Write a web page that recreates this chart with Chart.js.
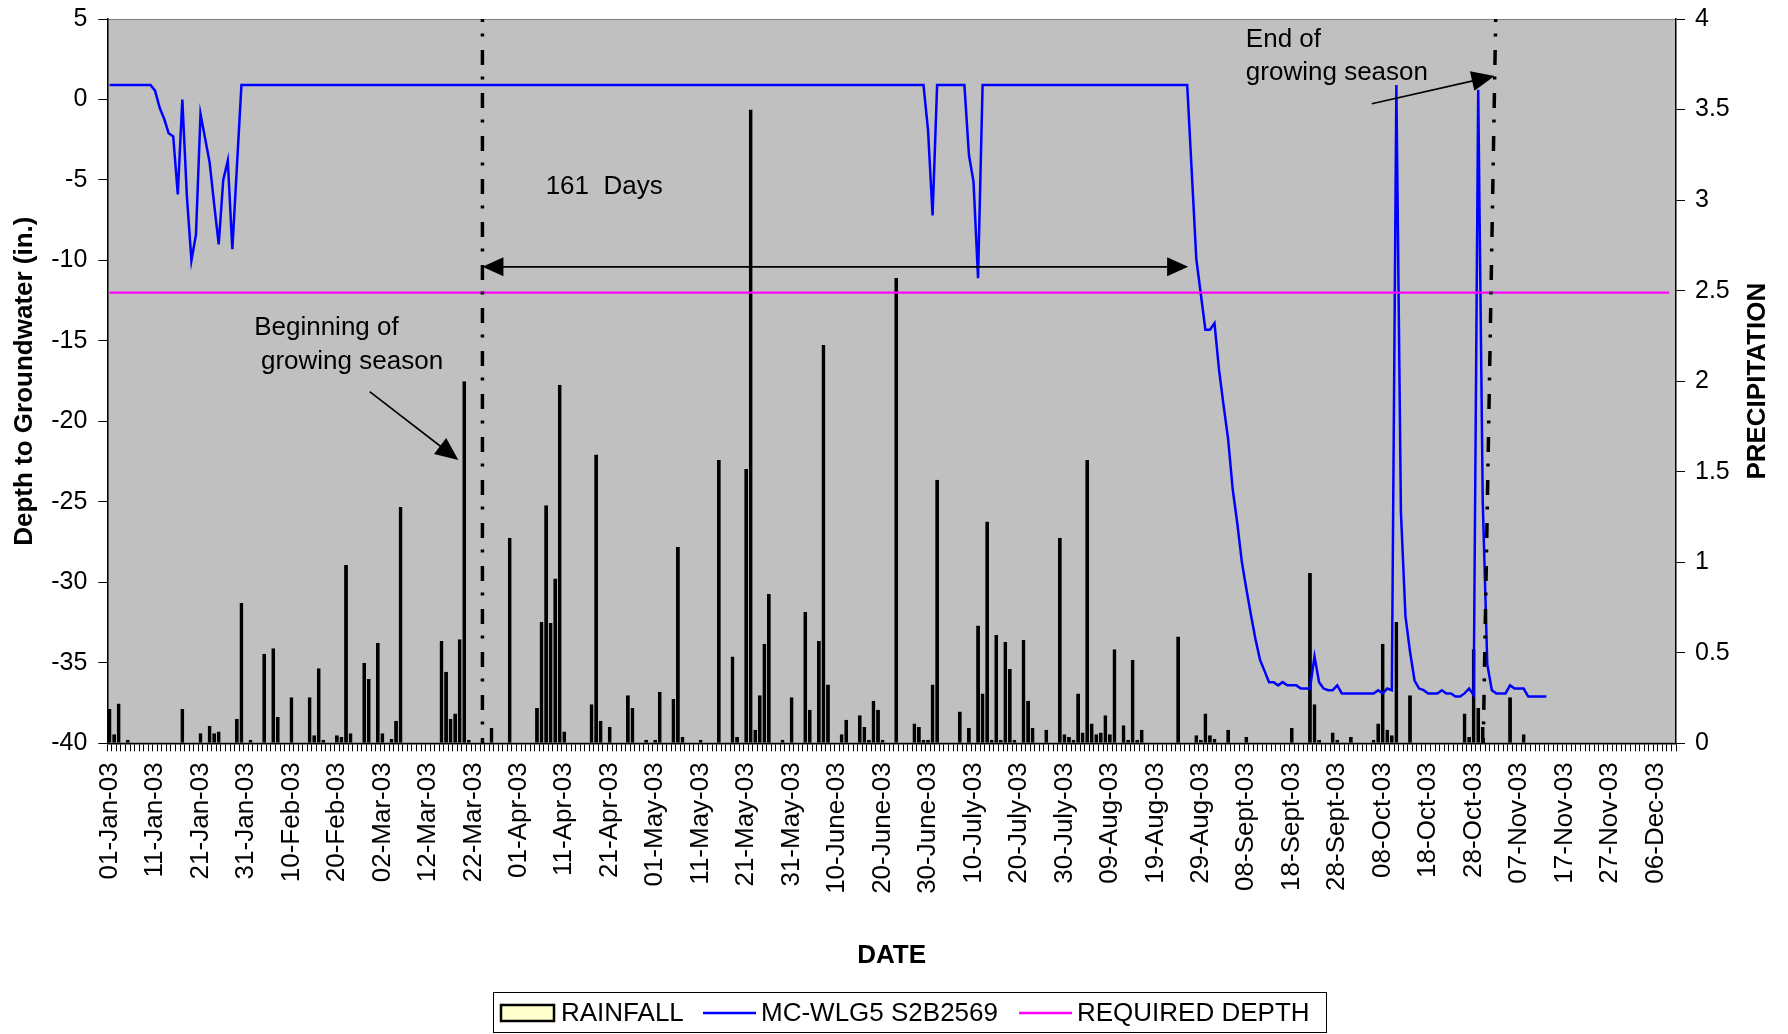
<!DOCTYPE html>
<html>
<head>
<meta charset="utf-8">
<title>MC-WLG5 S2B2569 – Depth to Groundwater</title>
<script src="https://cdn.jsdelivr.net/npm/chart.js@4.4.1/dist/chart.umd.min.js"></script>
<style>
  html, body { margin: 0; padding: 0; background: #fff; }
  #grafico { display: block; }
</style>
</head>
<body>
<canvas id="grafico" width="1788" height="1034"></canvas>
<script>
/* ============================================================
   Poço MC-WLG5 S2B2569 – profundidade do lençol freático vs chuva
   Eixo X: um dia por categoria (01-Jan-03 em diante).
   Eixo esquerdo: profundidade (in.); eixo direito: precipitação (in.).
   ============================================================ */

const TOTAL_DIAS = 345;
const dias = Array.from({ length: TOTAL_DIAS }, (_, i) => i);

// Rótulos do eixo X (um a cada 10 categorias)
const rotulosEixoX = [
  '01-Jan-03', '11-Jan-03', '21-Jan-03', '31-Jan-03', '10-Feb-03', '20-Feb-03', '02-Mar-03',
  '12-Mar-03', '22-Mar-03', '01-Apr-03', '11-Apr-03', '21-Apr-03', '01-May-03', '11-May-03',
  '21-May-03', '31-May-03', '10-June-03', '20-June-03', '30-June-03', '10-July-03', '20-July-03',
  '30-July-03', '09-Aug-03', '19-Aug-03', '29-Aug-03', '08-Sept-03', '18-Sept-03', '28-Sept-03',
  '08-Oct-03', '18-Oct-03', '28-Oct-03', '07-Nov-03', '17-Nov-03', '27-Nov-03', '06-Dec-03'
];

// Chuva: dia (índice da categoria) e altura em polegadas
const diasComChuva = [
  0, 1, 2, 4, 16, 20, 22, 23, 24, 28, 29, 31, 34, 36, 37, 40, 44, 45, 46, 47,
  50, 51, 52, 53, 56, 57, 59, 60, 62, 63, 64, 73, 74, 75, 76, 77, 78, 79, 84, 88,
  94, 95, 96, 97, 98, 99, 100, 106, 107, 108, 110, 114, 115, 118, 120, 121, 124, 125, 126, 130,
  134, 137, 138, 140, 141, 142, 143, 144, 145, 148, 150, 153, 154, 156, 157, 158, 161, 162, 165, 166,
  167, 168, 169, 170, 173, 177, 178, 179, 180, 181, 182, 187, 189, 191, 192, 193, 194, 195, 196, 197,
  198, 199, 201, 202, 203, 206, 209, 210, 211, 212, 213, 214, 215, 216, 217, 218, 219, 220, 221, 223,
  224, 225, 226, 227, 235, 239, 240, 241, 242, 243, 246, 250, 260, 264, 265, 266, 269, 270, 273, 278,
  279, 280, 281, 282, 283, 286, 298, 299, 300, 301, 302, 308, 311
];
const chuvaPolegadas = [
  0.19, 0.05, 0.22, 0.02, 0.19, 0.055, 0.095, 0.055, 0.065, 0.135, 0.775, 0.02, 0.495, 0.525, 0.145, 0.255, 0.255, 0.045, 0.415, 0.02,
  0.045, 0.035, 0.985, 0.055, 0.445, 0.355, 0.555, 0.055, 0.025, 0.125, 1.305, 0.565, 0.395, 0.135, 0.165, 0.575, 2.0, 0.02, 0.085, 1.135,
  0.195, 0.67, 1.315, 0.665, 0.91, 1.98, 0.065, 0.215, 1.595, 0.125, 0.09, 0.265, 0.195, 0.02, 0.02, 0.285, 0.245, 1.085, 0.035, 0.02,
  1.565, 0.48, 0.035, 1.515, 3.5, 0.075, 0.265, 0.55, 0.825, 0.02, 0.255, 0.725, 0.185, 0.565, 2.2, 0.325, 0.05, 0.13, 0.155, 0.09,
  0.02, 0.235, 0.185, 0.02, 2.57, 0.11, 0.09, 0.02, 0.02, 0.325, 1.455, 0.175, 0.085, 0.65, 0.275, 1.225, 0.02, 0.6, 0.02, 0.56,
  0.41, 0.02, 0.57, 0.235, 0.085, 0.075, 1.135, 0.05, 0.035, 0.02, 0.275, 0.06, 1.565, 0.11, 0.05, 0.06, 0.155, 0.05, 0.52, 0.1,
  0.02, 0.46, 0.02, 0.075, 0.59, 0.045, 0.02, 0.165, 0.045, 0.025, 0.075, 0.035, 0.085, 0.94, 0.215, 0.02, 0.06, 0.02, 0.035, 0.02,
  0.11, 0.55, 0.075, 0.045, 0.67, 0.265, 0.165, 0.035, 0.52, 0.195, 0.09, 0.255, 0.05
];

// Profundidade do lençol (in.), um valor por dia até 12-Nov
const nivelFreatico = [
  0.9, 0.9, 0.9, 0.9, 0.9, 0.9, 0.9, 0.9, 0.9, 0.9,                 // 0-9
  0.55, -0.5, -1.2, -2.1, -2.3, -5.9, 0.0, -6.0, -10.0, -8.4,       // 10-19
  -0.9, -2.4, -3.9, -6.5, -9.0, -5.0, -3.8, -9.3, -4.2, 0.9,        // 20-29
  0.9, 0.9, 0.9, 0.9, 0.9, 0.9, 0.9, 0.9, 0.9, 0.9,                 // 30-39
  0.9, 0.9, 0.9, 0.9, 0.9, 0.9, 0.9, 0.9, 0.9, 0.9,                 // 40-49
  0.9, 0.9, 0.9, 0.9, 0.9, 0.9, 0.9, 0.9, 0.9, 0.9,                 // 50-59
  0.9, 0.9, 0.9, 0.9, 0.9, 0.9, 0.9, 0.9, 0.9, 0.9,                 // 60-69
  0.9, 0.9, 0.9, 0.9, 0.9, 0.9, 0.9, 0.9, 0.9, 0.9,                 // 70-79
  0.9, 0.9, 0.9, 0.9, 0.9, 0.9, 0.9, 0.9, 0.9, 0.9,                 // 80-89
  0.9, 0.9, 0.9, 0.9, 0.9, 0.9, 0.9, 0.9, 0.9, 0.9,                 // 90-99
  0.9, 0.9, 0.9, 0.9, 0.9, 0.9, 0.9, 0.9, 0.9, 0.9,                 // 100-109
  0.9, 0.9, 0.9, 0.9, 0.9, 0.9, 0.9, 0.9, 0.9, 0.9,                 // 110-119
  0.9, 0.9, 0.9, 0.9, 0.9, 0.9, 0.9, 0.9, 0.9, 0.9,                 // 120-129
  0.9, 0.9, 0.9, 0.9, 0.9, 0.9, 0.9, 0.9, 0.9, 0.9,                 // 130-139
  0.9, 0.9, 0.9, 0.9, 0.9, 0.9, 0.9, 0.9, 0.9, 0.9,                 // 140-149
  0.9, 0.9, 0.9, 0.9, 0.9, 0.9, 0.9, 0.9, 0.9, 0.9,                 // 150-159
  0.9, 0.9, 0.9, 0.9, 0.9, 0.9, 0.9, 0.9, 0.9, 0.9,                 // 160-169
  0.9, 0.9, 0.9, 0.9, 0.9, 0.9, 0.9, 0.9, 0.9, 0.9,                 // 170-179
  -1.9, -7.2, 0.9, 0.9, 0.9, 0.9, 0.9, 0.9, 0.9, -3.45,             // 180-189
  -5.1, -11.1, 0.9, 0.9, 0.9, 0.9, 0.9, 0.9, 0.9, 0.9,              // 190-199
  0.9, 0.9, 0.9, 0.9, 0.9, 0.9, 0.9, 0.9, 0.9, 0.9,                 // 200-209
  0.9, 0.9, 0.9, 0.9, 0.9, 0.9, 0.9, 0.9, 0.9, 0.9,                 // 210-219
  0.9, 0.9, 0.9, 0.9, 0.9, 0.9, 0.9, 0.9, 0.9, 0.9,                 // 220-229
  0.9, 0.9, 0.9, 0.9, 0.9, 0.9, 0.9, 0.9, -4.5, -9.9,               // 230-239
  -12.1, -14.3, -14.3, -13.9, -16.8, -19.0, -21.1, -24.2, -26.3, -28.7,   // 240-249
  -30.4, -32.0, -33.5, -34.8, -35.5, -36.2, -36.2, -36.4, -36.2, -36.4,   // 250-259
  -36.4, -36.4, -36.6, -36.6, -36.6, -34.6, -36.2, -36.6, -36.7, -36.7,   // 260-269
  -36.4, -36.9, -36.9, -36.9, -36.9, -36.9, -36.9, -36.9, -36.9, -36.7,   // 270-279
  -36.9, -36.6, -36.7, 0.9, -25.6, -32.1, -34.3, -36.1, -36.6, -36.7,     // 280-289
  -36.9, -36.9, -36.9, -36.7, -36.9, -36.9, -37.1, -37.1, -36.9, -36.6,   // 290-299
  -37.0, 0.6, -25.0, -35.1, -36.7, -36.9, -36.9, -36.9, -36.4, -36.6,     // 300-309
  -36.6, -36.6, -37.1, -37.1, -37.1, -37.1, -37.1                         // 310-316
];

const PROFUNDIDADE_EXIGIDA = -12;   // linha "REQUIRED DEPTH"
const DIAS_LINHA_EXIGIDA = 344;

/* ---------- Anotações, em coordenadas dos eixos (dia, polegadas) ---------- */
const INICIO_ESTACAO = 82;                         // traço-ponto do início
const FIM_ESTACAO_TOPO = 304.85;                   // traço-ponto do fim (levemente inclinado)
const FIM_ESTACAO_BASE = 302.1;
const SETA_161 = { de: 82, ate: 237.2, nivel: -10.4 };
const SETA_INICIO = { de: [57.2, -18.15], ate: [76.7, -22.4] };
const SETA_FIM = { de: [277.6, -0.27], ate: [304.6, 1.46] };
const TEXTOS = [
  { texto: '161  Days', dia: 95.9, nivel: -5.4 },
  { texto: 'Beginning of', dia: 31.8, nivel: -14.2 },
  { texto: 'growing season', dia: 33.3, nivel: -16.3 },
  { texto: 'End of', dia: 249.9, nivel: 3.7 },
  { texto: 'growing season', dia: 249.9, nivel: 1.65 }
];

const FONTE = '"Liberation Sans", Arial, Helvetica, sans-serif';
Chart.defaults.font.family = FONTE;
Chart.defaults.color = '#000';

// Dados do gráfico de barras: null nos dias sem chuva
const chuvaPorDia = dias.map(() => null);
diasComChuva.forEach((d, k) => { chuvaPorDia[d] = chuvaPolegadas[k]; });

/* ---------- Plugins ---------- */
const fundoPlot = {
  id: 'fundoPlot',
  beforeDraw(chart) {
    const { ctx, chartArea: a } = chart;
    ctx.save();
    ctx.fillStyle = '#fff';
    ctx.fillRect(0, 0, chart.width, chart.height);
    ctx.fillStyle = '#C0C0C0';
    ctx.fillRect(a.left, a.top, a.right - a.left, a.bottom - a.top);
    ctx.strokeStyle = '#808080';
    ctx.lineWidth = 1;
    ctx.strokeRect(a.left + 0.5, a.top + 0.5, a.right - a.left - 1, a.bottom - a.top - 1);
    ctx.restore();
  }
};

function pontaSeta(ctx, x1, y1, x2, y2, comp, meia) {
  const ang = Math.atan2(y2 - y1, x2 - x1);
  const c = Math.cos(ang), s = Math.sin(ang);
  ctx.beginPath();
  ctx.moveTo(x2, y2);
  ctx.lineTo(x2 - comp * c + meia * s, y2 - comp * s - meia * c);
  ctx.lineTo(x2 - comp * c - meia * s, y2 - comp * s + meia * c);
  ctx.closePath();
  ctx.fill();
}

function linhaTracoPonto(ctx, xTopo, xBase, topo, base) {
  ctx.save();
  ctx.lineWidth = 3.5;
  ctx.setLineDash([15, 11.5, 3, 13.5]);
  ctx.lineDashOffset = 12;
  ctx.beginPath();
  ctx.moveTo(xTopo, topo);
  ctx.lineTo(xBase, base);
  ctx.stroke();
  ctx.restore();
}

const anotacoes = {
  id: 'anotacoes',
  afterDatasetsDraw(chart) {
    const { ctx, chartArea: a } = chart;
    const x = chart.scales.x, y = chart.scales.y;
    ctx.save();
    ctx.strokeStyle = '#000';
    ctx.fillStyle = '#000';

    linhaTracoPonto(ctx, x.getPixelForValue(INICIO_ESTACAO), x.getPixelForValue(INICIO_ESTACAO), a.top, a.bottom);
    linhaTracoPonto(ctx, x.getPixelForValue(FIM_ESTACAO_TOPO), x.getPixelForValue(FIM_ESTACAO_BASE), a.top, a.bottom);

    ctx.lineWidth = 1.6;
    // seta dupla dos 161 dias
    const yS = y.getPixelForValue(SETA_161.nivel);
    const xa = x.getPixelForValue(SETA_161.de), xb = x.getPixelForValue(SETA_161.ate);
    ctx.beginPath();
    ctx.moveTo(xa + 10, yS);
    ctx.lineTo(xb - 10, yS);
    ctx.stroke();
    pontaSeta(ctx, xb, yS, xa, yS, 21, 9.5);
    pontaSeta(ctx, xa, yS, xb, yS, 21, 9.5);

    [SETA_INICIO, SETA_FIM].forEach(sq => {
      const x1 = x.getPixelForValue(sq.de[0]), y1 = y.getPixelForValue(sq.de[1]);
      const x2 = x.getPixelForValue(sq.ate[0]), y2 = y.getPixelForValue(sq.ate[1]);
      ctx.beginPath();
      ctx.moveTo(x1, y1);
      ctx.lineTo(x1 + (x2 - x1) * 0.85, y1 + (y2 - y1) * 0.85);
      ctx.stroke();
      pontaSeta(ctx, x1, y1, x2, y2, 23, 10);
    });

    ctx.font = '26px ' + FONTE;
    ctx.textAlign = 'left';
    ctx.textBaseline = 'middle';
    TEXTOS.forEach(t => ctx.fillText(t.texto, x.getPixelForValue(t.dia), y.getPixelForValue(t.nivel)));
    ctx.restore();
  }
};

// Título do eixo direito (lido de baixo para cima, como no original) e legenda com moldura
const extras = {
  id: 'extras',
  afterDraw(chart) {
    const { ctx, chartArea: a } = chart;
    ctx.save();
    ctx.translate(1758, (a.top + a.bottom) / 2);
    ctx.rotate(-Math.PI / 2);
    ctx.font = 'bold 26px ' + FONTE;
    ctx.textAlign = 'center';
    ctx.textBaseline = 'middle';
    ctx.fillStyle = '#000';
    ctx.fillText('PRECIPITATION', 0, 0);
    ctx.restore();

    ctx.save();
    ctx.fillStyle = '#fff';
    ctx.fillRect(493, 993, 833, 40);
    ctx.strokeStyle = '#000';
    ctx.lineWidth = 1;
    ctx.strokeRect(493.5, 992.5, 833, 40);
    const inicio = [501, 703, 1019];
    const yc = 1013;
    ctx.font = '26px ' + FONTE;
    ctx.textBaseline = 'middle';
    chart.data.datasets.forEach((d, i) => {
      const x0 = inicio[i];
      if (d.type === 'bar') {
        ctx.fillStyle = d.backgroundColor;
        ctx.fillRect(x0, yc - 8, 53, 16);
        ctx.strokeStyle = d.borderColor;
        ctx.lineWidth = 2.5;
        ctx.strokeRect(x0, yc - 8, 53, 16);
      } else {
        ctx.strokeStyle = d.borderColor;
        ctx.lineWidth = 2.5;
        ctx.beginPath();
        ctx.moveTo(x0, yc);
        ctx.lineTo(x0 + 53, yc);
        ctx.stroke();
      }
      ctx.fillStyle = '#000';
      ctx.fillText(d.label, x0 + (d.type === 'bar' ? 60 : 58), yc + 1);
    });
    ctx.restore();
  }
};

// Eixos verticais: sem folga extra acima/abaixo por causa dos rótulos
function semFolgaVertical(s, largura) {
  s.width = largura;
  s.paddingTop = 0;
  s.paddingBottom = 0;
}

/* ---------- Gráfico ---------- */
new Chart(document.getElementById('grafico'), {
  data: {
    labels: dias,
    datasets: [
      {
        type: 'bar',
        label: 'RAINFALL',
        data: chuvaPorDia,
        yAxisID: 'y1',
        backgroundColor: '#FFFFCC',
        borderColor: '#000000',
        borderWidth: 2,
        borderSkipped: 'start',
        barPercentage: 0.85,
        categoryPercentage: 1,
        order: 2
      },
      {
        type: 'line',
        label: 'MC-WLG5 S2B2569',
        data: nivelFreatico,
        yAxisID: 'y',
        borderColor: '#0000FF',
        borderWidth: 2.5,
        pointRadius: 0,
        tension: 0,
        order: 1
      },
      {
        type: 'line',
        label: 'REQUIRED DEPTH',
        data: dias.slice(0, DIAS_LINHA_EXIGIDA).map(() => PROFUNDIDADE_EXIGIDA),
        yAxisID: 'y',
        borderColor: '#FF00FF',
        borderWidth: 2.2,
        pointRadius: 0,
        tension: 0,
        order: 0
      }
    ]
  },
  options: {
    responsive: false,
    devicePixelRatio: 1,
    animation: false,
    events: [],
    layout: { padding: { top: 19, left: 0, right: 0, bottom: 0 } },
    plugins: { legend: { display: false }, tooltip: { enabled: false } },
    scales: {
      x: {
        type: 'category',
        offset: true,
        grid: { display: true, drawOnChartArea: false, offset: true, tickLength: 8, color: '#000' },
        border: { display: true, color: '#000', width: 1.5 },
        ticks: {
          autoSkip: false,
          maxRotation: 90,
          minRotation: 90,
          padding: 11,
          font: { size: 26 },
          callback: (v, i) => (i % 10 === 0 ? rotulosEixoX[i / 10] : '')
        },
        title: { display: true, text: 'DATE', font: { size: 26, weight: 'bold' }, padding: { top: 0, bottom: 63 } },
        afterFit: (s) => { s.height = 290.7; }
      },
      y: {
        position: 'left',
        min: -40,
        max: 5,
        grid: { drawOnChartArea: false, tickLength: 9, color: '#000' },
        border: { display: true, color: '#000', width: 1.5 },
        ticks: { stepSize: 5, padding: 11, font: { size: 25 } },
        title: { display: true, text: 'Depth to Groundwater (in.)', font: { size: 26, weight: 'bold' }, padding: { top: 9, bottom: 0 } },
        afterFit: (s) => semFolgaVertical(s, 107.3)
      },
      y1: {
        position: 'right',
        min: 0,
        max: 4,
        grid: { drawOnChartArea: false, tickLength: 9, color: '#000' },
        border: { display: true, color: '#000', width: 1.5 },
        ticks: { stepSize: 0.5, padding: 10, font: { size: 25 }, callback: (v) => String(v) },
        afterFit: (s) => semFolgaVertical(s, 112)
      }
    }
  },
  plugins: [fundoPlot, anotacoes, extras]
});
</script>
</body>
</html>
